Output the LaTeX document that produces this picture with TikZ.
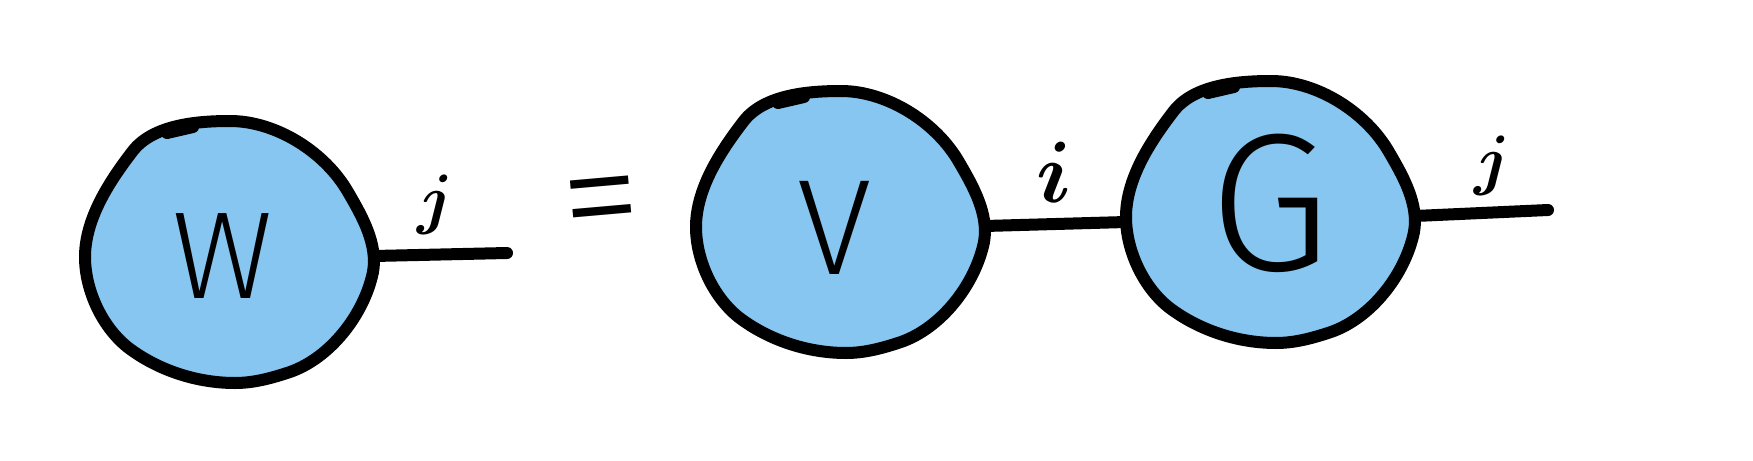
\documentclass[tikz,border=0pt]{standalone}
\usepackage{fontspec}
\IfFontExistsTF{Fira Sans Light}
  {\newfontfamily\handfont{Fira Sans Light}}
  {\newfontfamily\handfont{Fira Sans}}
\definecolor{blobblue}{RGB}{134,198,240}
\newcommand{\idx}[2]{\scalebox{#1}{$#2$}}

\begin{document}
\begin{tikzpicture}[
  x=0.5pt, y=-0.5pt,
  outline/.style={draw=black, line width=6pt, line cap=round, line join=round},
  leg/.style={draw=black, line width=6pt, line cap=round},
  letter/.style={inner sep=0pt},
  index/.style={inner sep=0pt, font=\fontsize{24}{24}\selectfont\boldmath},
  blob/.pic={
    \path[outline, fill=blobblue] (0,-131)
      .. controls (46,-131) and (95,-100) .. (118,-60)
      .. controls (132,-36) and (148,-8) .. (143,20)
      .. controls (134,63) and (100,106) .. (60,120)
      .. controls (42,126) and (24,131) .. (5,131)
      .. controls (-32,131) and (-70,119) .. (-100,97)
      .. controls (-127,77) and (-145,39) .. (-145,5)
      .. controls (-145,-33) and (-121,-70) .. (-98,-100)
      .. controls (-78,-127) and (-34,-131) .. (0,-131) -- cycle;
    \draw[outline] (-63,-119) -- (-37,-125);
    \coordinate (-west) at (-145,10);
    \coordinate (-east) at (144,4);
  }
]
\useasboundingbox (0,0) rectangle (1753,461);

% tensors
\pic (W) at (230,252) {blob};
\pic (V) at (841,222) {blob};
\pic (G) at (1271,212) {blob};

\node[letter, font=\handfont\fontsize{62}{62}\selectfont] (Wl) at (223,256) {W};
\node[letter, font=\handfont\fontsize{68}{68}\selectfont] (Vl) at (835,228) {V};
\node[letter, font=\handfont\fontsize{98}{98}\selectfont] (Gl) at (1270,203) {G};

\node[letter, font=\handfont\fontsize{82}{82}\selectfont, rotate=5] (eq) at (603,215) {=};

% legs
\coordinate (Wend) at (507,253);
\coordinate (Gend) at (1548,210);
\draw[leg] (W-east) -- (Wend);
\draw[leg] (V-east) -- (G-west);
\draw[leg] (G-east) -- (Gend);

% indices
\node[index] (jW) at (435,205) {\idx{1.35}{j}};
\node[index] (iV) at (1054,172) {\idx{1.75}{i}};
\node[index] (jG) at (1492,166) {\idx{1.35}{j}};
\end{tikzpicture}
\end{document}
